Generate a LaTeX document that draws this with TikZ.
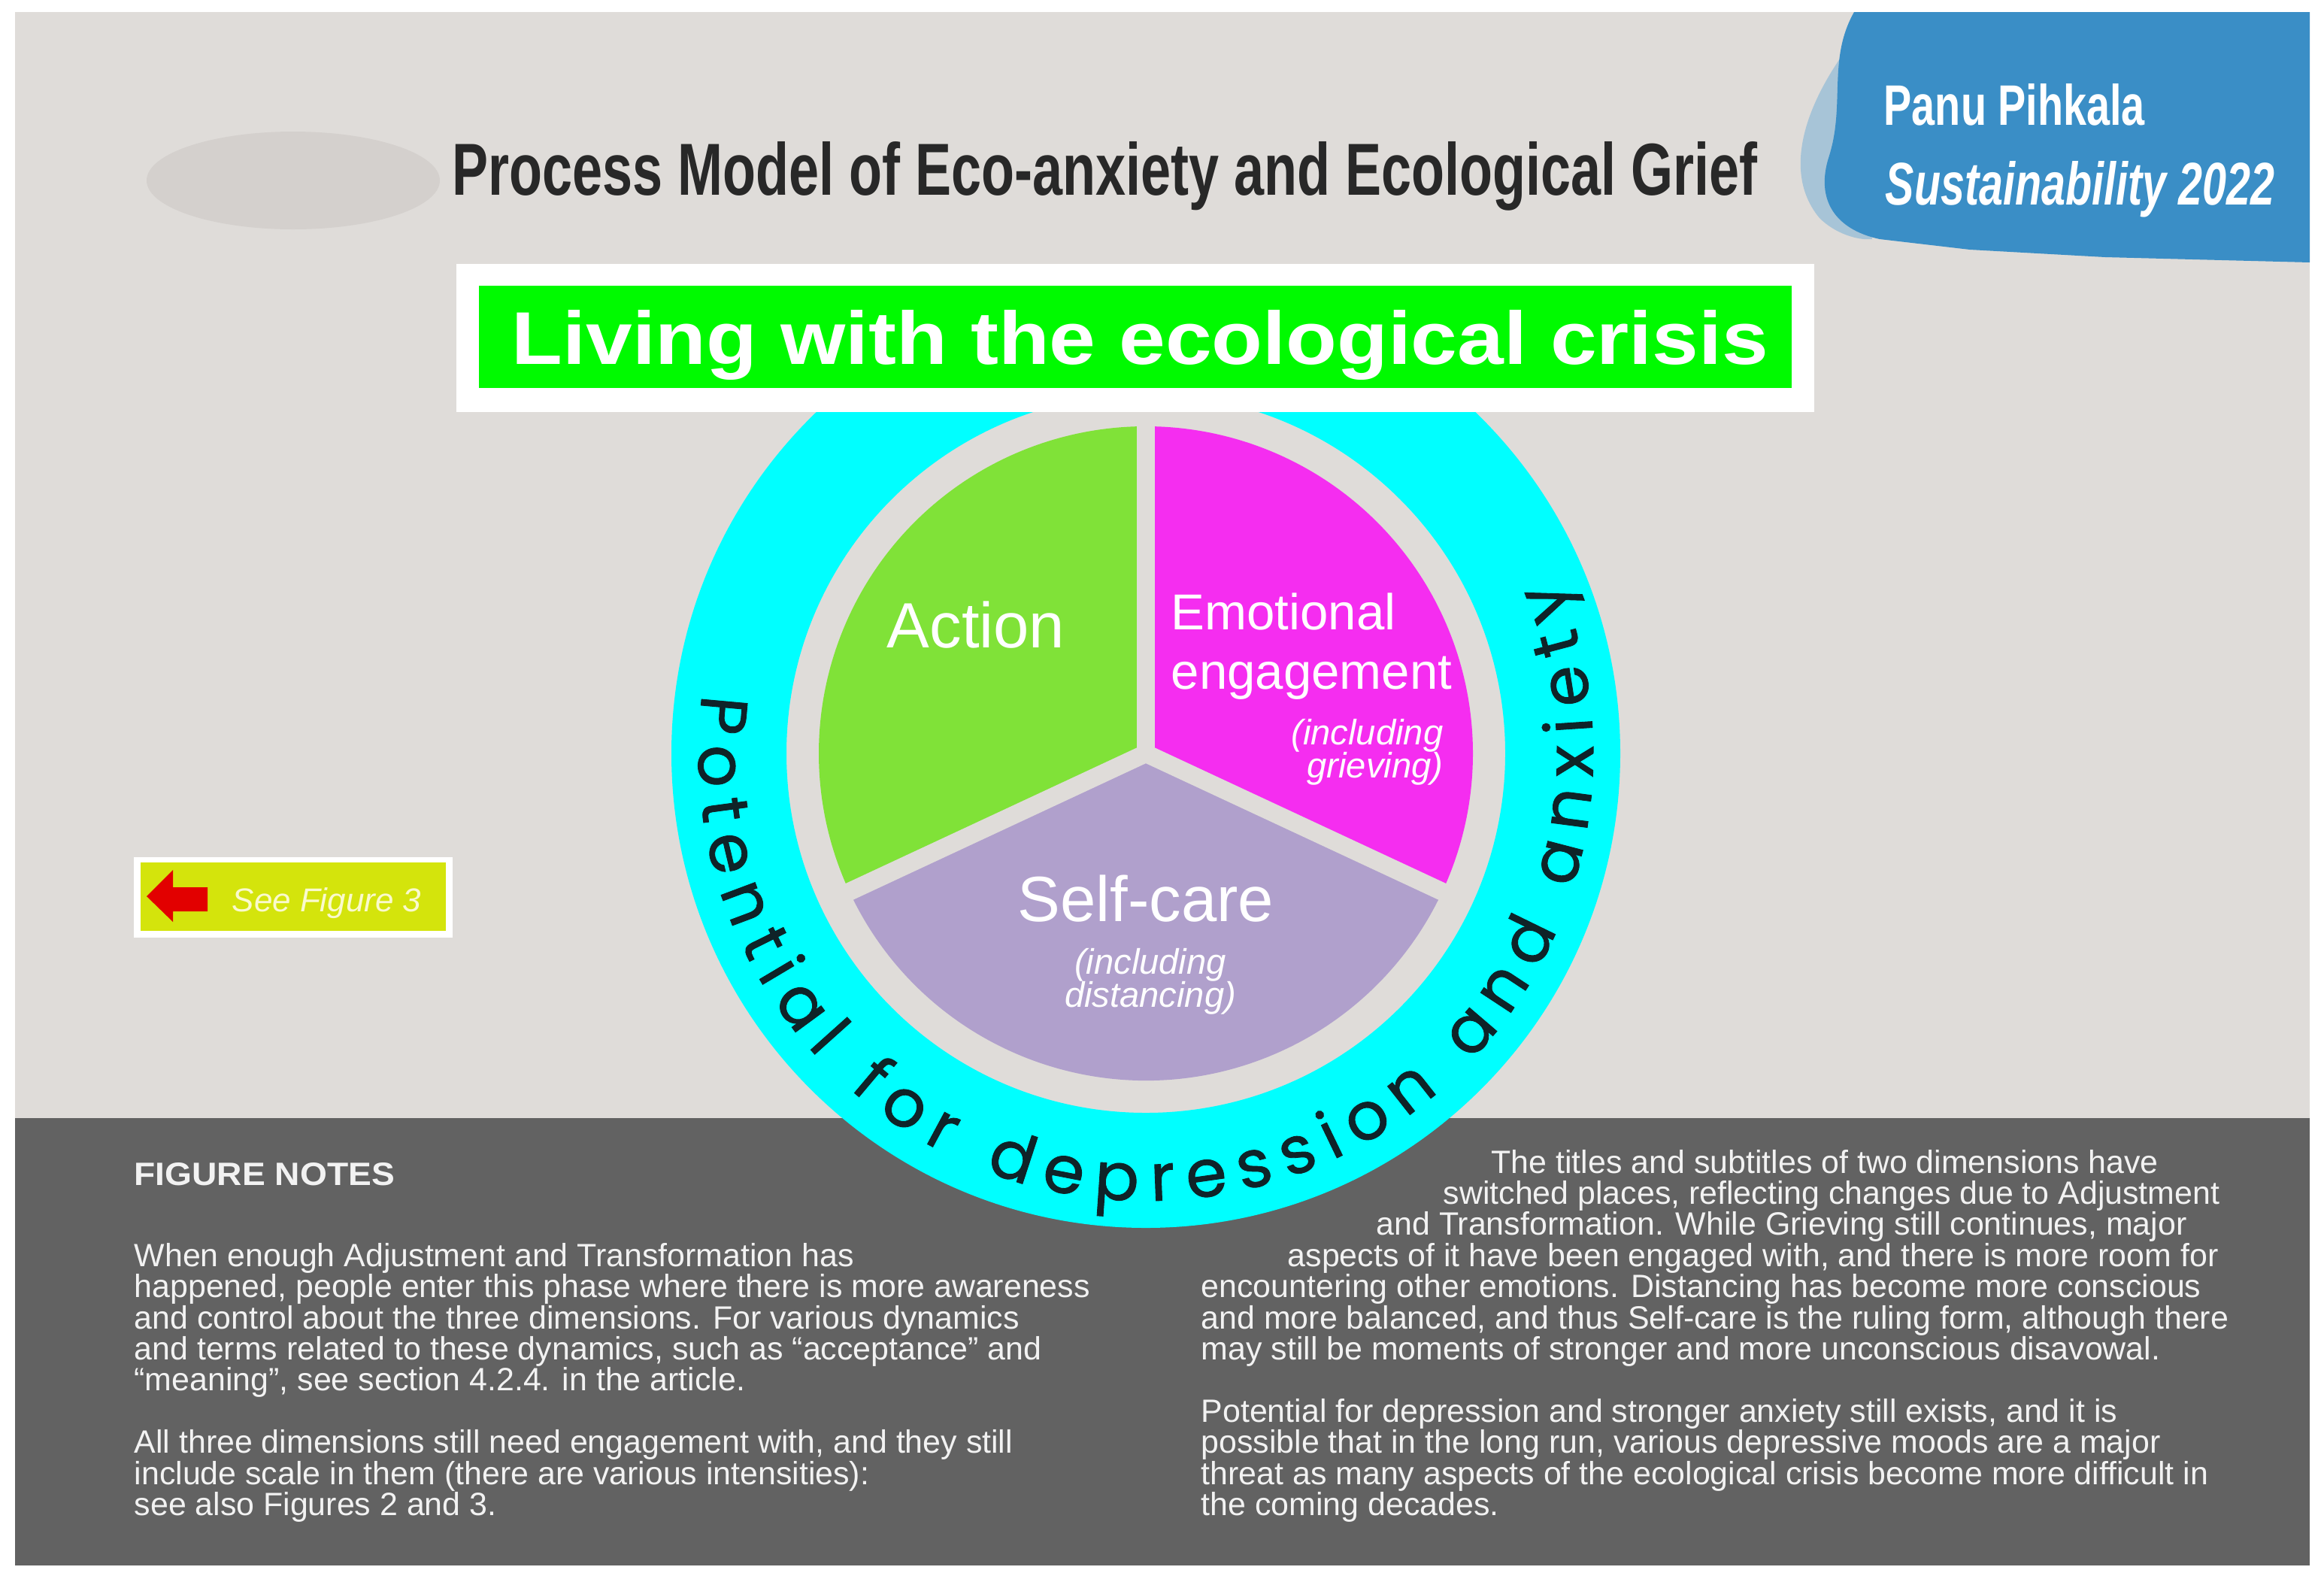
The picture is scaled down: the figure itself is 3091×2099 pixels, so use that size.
\documentclass[tikz,border=0pt]{standalone}
\usepackage{graphicx}
\usepackage{fontspec}
\setmainfont{Liberation Sans}
\newfontfamily\ringfont{Poppins}[FakeBold=1]
\usetikzlibrary{decorations.text}
\definecolor{bgc}{RGB}{223,220,217}
\definecolor{blobc}{RGB}{212,208,205}
\definecolor{panelc}{RGB}{98,98,98}
\definecolor{ringc}{RGB}{0,255,255}
\definecolor{actg}{RGB}{128,226,56}
\definecolor{emom}{RGB}{245,45,240}
\definecolor{selfl}{RGB}{176,160,204}
\definecolor{titleg}{RGB}{0,250,0}
\definecolor{bluep}{RGB}{58,142,198}
\definecolor{bluel}{RGB}{130,180,214}
\definecolor{figy}{RGB}{212,228,12}
\definecolor{arrowr}{RGB}{226,0,0}
\definecolor{ringtxt}{RGB}{15,35,40}
\definecolor{titletxt}{RGB}{40,40,40}
\definecolor{notetxt}{RGB}{242,242,242}
\tikzset{
  note/.style={anchor=base west, inner sep=0pt, text=notetxt, font=\fontsize{12.2pt}{14pt}\selectfont},
  pielabel/.style={inner sep=0pt, text=white},
  gapline/.style={bgc, line width=6.8pt},
}
\begin{document}
\begin{tikzpicture}[x=0.01cm,y=0.01cm]
\useasboundingbox (0,0) rectangle (3091,-2099);
\fill[white] (0,0) rectangle (3091,-2099);
\fill[bgc] (20,-16) rectangle (3072,-2082);
% smudge near title
\fill[blobc] (390,-240) ellipse[x radius=195, y radius=65];
% blue watercolor patch
\fill[bluel, opacity=0.6] (2460,-60) .. controls (2400,-140) and (2370,-230) .. (2420,-290)
  .. controls (2440,-310) and (2470,-320) .. (2490,-318) -- (2470,-200) -- cycle;
\fill[bluep] (3072,-16) -- (2466,-16)
  .. controls (2430,-80) and (2455,-140) .. (2432,-210)
  .. controls (2415,-265) and (2440,-305) .. (2500,-318)
  -- (2620,-332) -- (2800,-342) -- (3072,-349) -- cycle;
% bottom panel
\fill[panelc] (20,-1487) rectangle (3072,-2082);
% ring and pie
\coordinate (c) at (1524,-1002);
\fill[ringc, even odd rule] (c) circle[radius=631] (c) circle[radius=478];
\fill[actg] (c) -- ++(90:435) arc[start angle=90, end angle=205, radius=435] -- cycle;
\fill[emom] (c) -- ++(-25:435) arc[start angle=-25, end angle=90, radius=435] -- cycle;
\fill[selfl] (c) -- ++(205:435) arc[start angle=205, end angle=335, radius=435] -- cycle;
\draw[gapline] (c) -- ++(90:460);
\draw[gapline] (c) -- ++(205:460);
\draw[gapline] (c) -- ++(335:460);
% ring text
\path[decorate, decoration={text along path, text align={fit to path}, text color=ringtxt,
  text={|\ringfont\fontsize{25pt}{29pt}\selectfont|Potential for depression and anxiety}}]
  (934.2,-923.3) arc[start angle=172.4, end angle=382.9, radius=595];
% pie labels
\node[pielabel, anchor=base, font=\fontsize{24.2pt}{28pt}\selectfont] (action) at (1298,-861) {Action};
\node[pielabel, anchor=base west, font=\fontsize{19.1pt}{22pt}\selectfont] (emo1) at (1557,-837) {Emotional};
\node[pielabel, anchor=base west, font=\fontsize{19.1pt}{22pt}\selectfont] (emo2) at (1557,-916) {engagement};
\node[pielabel, anchor=base east, font=\fontsize{13.4pt}{16pt}\itshape] (emo3) at (1920,-990) {(including};
\node[pielabel, anchor=base east, font=\fontsize{13.4pt}{16pt}\itshape] (emo4) at (1920,-1034) {grieving)};
\node[pielabel, anchor=base, font=\fontsize{24.2pt}{28pt}\selectfont] (self1) at (1524,-1225) {Self-care};
\node[pielabel, anchor=base, font=\fontsize{13.4pt}{16pt}\itshape] (self2) at (1530,-1295) {(including};
\node[pielabel, anchor=base, font=\fontsize{13.4pt}{16pt}\itshape] (self3) at (1530,-1339) {distancing)};
% title boxes
\fill[white] (607,-351) rectangle (2413,-548);
\fill[titleg] (637,-380) rectangle (2383,-516);
\node[anchor=base west, inner sep=0pt, text=white] (living) at (680,-484)
  {\resizebox{16.7cm}{0.72cm}{\bfseries Living with the ecological crisis}};
\node[anchor=base west, inner sep=0pt, text=titletxt] (title) at (601,-259)
  {\resizebox{17.35cm}{0.71cm}{\bfseries Process Model of Eco-anxiety and Ecological Grief}};
\node[anchor=base west, inner sep=0pt, text=white] (author) at (2505,-166)
  {\resizebox{3.47cm}{0.55cm}{\bfseries Panu Pihkala}};
\node[anchor=base west, inner sep=0pt, text=white] (journal) at (2507,-272)
  {\resizebox{5.17cm}{0.58cm}{\bfseries\itshape Sustainability 2022}};
% see figure 3
\fill[white] (178,-1140) rectangle (602,-1247);
\fill[figy] (187,-1147) rectangle (593,-1238);
\fill[arrowr] (195,-1192) -- (230,-1157) -- (230,-1180) -- (276,-1180) -- (276,-1212) -- (230,-1212) -- (230,-1226) -- cycle;
\node[anchor=base west, inner sep=0pt, text={rgb,255:red,250;green,250;blue,205}, font=\fontsize{12.5pt}{15pt}\itshape] (seefig) at (308,-1212) {See Figure 3};
% notes left
\node[anchor=base west, inner sep=0pt, text=notetxt] (notes) at (178,-1576) {\resizebox{3.46cm}{0.30cm}{\bfseries FIGURE NOTES}};
\node[note] (l1) at (178,-1684) {When enough Adjustment and Transformation has};
\node[note] (l2) at (178,-1725) {happened, people enter this phase where there is more awareness};
\node[note] (l3) at (178,-1767) {and control about the three dimensions. For various dynamics};
\node[note] (l4) at (178,-1808) {and terms related to these dynamics, such as “acceptance” and};
\node[note] (l5) at (178,-1849) {“meaning”, see section 4.2.4. in the article.};
\node[note] (l6) at (178,-1932) {All three dimensions still need engagement with, and they still};
\node[note] (l7) at (178,-1974) {include scale in them (there are various intensities):};
\node[note] (l8) at (178,-2015) {see also Figures 2 and 3.};
% notes right
\node[note] (r1) at (1983,-1560) {The titles and subtitles of two dimensions have};
\node[note] (r2) at (1919,-1601) {switched places, reflecting changes due to Adjustment};
\node[note] (r3) at (1830,-1642) {and Transformation. While Grieving still continues, major};
\node[note] (r4) at (1712,-1684) {aspects of it have been engaged with, and there is more room for};
\node[note] (r5) at (1597,-1725) {encountering other emotions. Distancing has become more conscious};
\node[note] (r6) at (1597,-1767) {and more balanced, and thus Self-care is the ruling form, although there};
\node[note] (r7) at (1597,-1808) {may still be moments of stronger and more unconscious disavowal.};
\node[note] (r8) at (1597,-1891) {Potential for depression and stronger anxiety still exists, and it is};
\node[note] (r9) at (1597,-1932) {possible that in the long run, various depressive moods are a major};
\node[note] (r10) at (1597,-1974) {threat as many aspects of the ecological crisis become more difficult in};
\node[note] (r11) at (1597,-2015) {the coming decades.};
\end{tikzpicture}
\end{document}
